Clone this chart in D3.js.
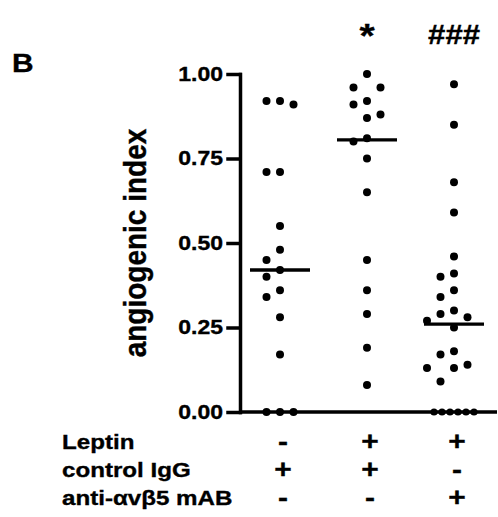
<!DOCTYPE html>
<html>
<head>
<meta charset="utf-8">
<script src="https://cdn.jsdelivr.net/npm/d3@7"></script>
<style>
  body { margin: 0; background: #fff; }
  text { font-family: "Liberation Sans", Arial, sans-serif; font-weight: bold; fill: #000; stroke: #000; stroke-width: 0.35px; }
</style>
</head>
<body>
<script>
// scatter of angiogenic index, one column per treatment

var groups = ["ctrl", "leptin", "blocked"];

var ctrlValues = [0.92, 0.92, 0.91, 0.71, 0.71, 0.55, 0.48, 0.45, 0.42, 0.40, 0.36, 0.34, 0.28, 0.17, 0, 0, 0];
var leptinValues = [1.00, 0.96, 0.96, 0.92, 0.91, 0.88, 0.87, 0.81, 0.80, 0.75, 0.65, 0.45, 0.36, 0.29, 0.19, 0.08];
var blockedValues = [0.97, 0.85, 0.68, 0.59, 0.46, 0.41, 0.40, 0.36, 0.34, 0.30, 0.29, 0.28, 0.27, 0.25,
    0.18, 0.17, 0.14, 0.13, 0.13, 0.09, 0, 0, 0, 0, 0, 0];

var signif = ["", "*", "###"];

var yTicks = [0, 0.25, 0.5, 0.75, 1.0];

var rowLabels = ["Leptin", "control IgG", "anti-\u03b1v\u03b25 mAB"];
var rowSigns = [
    ["-", "+", "+"],
    ["+", "+", "-"],
    ["-", "-", "+"]
];

var series = [ctrlValues, leptinValues, blockedValues];

var width = 498, height = 517;
var margin = { top: 74, right: 1, bottom: 105, left: 240 };
var sx = 1.15; // the original figure is a bit wider than tall

var svg = d3.select("body").append("svg")
    .attr("width", width)
    .attr("height", height);

var y = d3.scaleLinear().domain([0, 1]).range([height - margin.bottom, margin.top]);
var x = d3.scalePoint().domain(groups).range([280, 454]);

var dotR = 4;
var step = 13.5;

// simple beeswarm: top to bottom, push a dot sideways when it would touch a neighbour
function swarm(values, cx) {
    var placed = [];
    var counts = d3.rollup(values, function (v) { return v.length; }, function (d) { return d; });
    var seen = new Map();
    values.slice().sort(function (a, b) { return b - a; }).forEach(function (v) {
        var cy = y(v);
        var n = counts.get(v);
        if (n >= 4) {
            // long row of ties gets squeezed
            var k = seen.get(v) || 0;
            seen.set(v, k + 1);
            var sp = Math.min(step, 40 / (n - 1));
            placed.push({ v: v, x: cx + (k - (n - 1) / 2) * sp, y: cy });
            return;
        }
        var offs = [0, -1, 1, -2, 2, -3, 3];
        for (var i = 0; i < offs.length; i++) {
            var px = cx + offs[i] * step;
            var hit = placed.some(function (p) {
                return Math.abs(p.x - px) < step * 0.6 && Math.abs(p.y - cy) < 14;
            });
            if (!hit) {
                placed.push({ v: v, x: px, y: cy });
                return;
            }
        }
        placed.push({ v: v, x: cx, y: cy });
    });
    return placed;
}

// text drawn with the same horizontal stretch as the source
function label(px, py, str, size, anchor) {
    return svg.append("text")
        .attr("transform", "translate(" + px + "," + py + ") scale(" + sx + ",1)")
        .attr("text-anchor", anchor || "start")
        .style("font-size", size + "px")
        .text(str);
}

// y axis
var yAxis = d3.axisLeft(y)
    .tickValues(yTicks)
    .tickFormat(d3.format(".2f"))
    .tickSize(12)
    .tickSizeOuter(0)
    .tickPadding(5);

var gy = svg.append("g")
    .attr("transform", "translate(" + margin.left + ",0)")
    .call(yAxis);

gy.select(".domain").attr("stroke-width", 3.5).attr("stroke-linecap", "square");
gy.selectAll(".tick line").attr("stroke-width", 3.5).attr("stroke-linecap", "square");
gy.selectAll(".tick text")
    .attr("transform", "scale(" + sx + ",1)")
    .attr("x", -17 / sx)
    .attr("stroke", "#000")
    .attr("stroke-width", 0.35)
    .style("font-size", "20px")
    .style("font-family", "'Liberation Sans', Arial, sans-serif")
    .style("font-weight", "bold");

// x axis line
svg.append("line")
    .attr("x1", margin.left)
    .attr("x2", width - margin.right)
    .attr("y1", y(0))
    .attr("y2", y(0))
    .attr("stroke", "#000")
    .attr("stroke-width", 3.5);

// dots + medians
groups.forEach(function (g, i) {
    var cx = x(g);
    var pts = swarm(series[i], cx);

    svg.append("g").selectAll("circle")
        .data(pts)
        .enter().append("circle")
        .attr("cx", function (d) { return d.x; })
        .attr("cy", function (d) { return d.y; })
        .attr("r", function (d) { return d.v === 0 && series[i].length > 20 ? 3.6 : dotR; })
        .attr("fill", "#000");

    var med = d3.median(series[i]);
    svg.append("line")
        .attr("x1", cx - 30)
        .attr("x2", cx + 30)
        .attr("y1", y(med))
        .attr("y2", y(med))
        .attr("stroke", "#000")
        .attr("stroke-width", 3.4);

    label(cx, i == 1 ? 47 : 44, signif[i], i == 1 ? 34 : 27, "middle");
});

// axis title
svg.append("text")
    .attr("transform", "translate(146," + (y(0) + y(1)) / 2 + ") scale(" + sx + ",1) rotate(-90)")
    .attr("text-anchor", "middle")
    .style("font-size", "28px")
    .text("angiogenic index");

// panel letter
label(12, 72, "B", 26);

// treatment table under the axis
var rowY = [449, 477, 505];

rowLabels.forEach(function (lab, r) {
    label(62, rowY[r], lab, 21);
    rowSigns[r].forEach(function (s, i) {
        label(x(groups[i]) + 3, rowY[r] + 1, s, 26, "middle");
    });
});
</script>
</body>
</html>
